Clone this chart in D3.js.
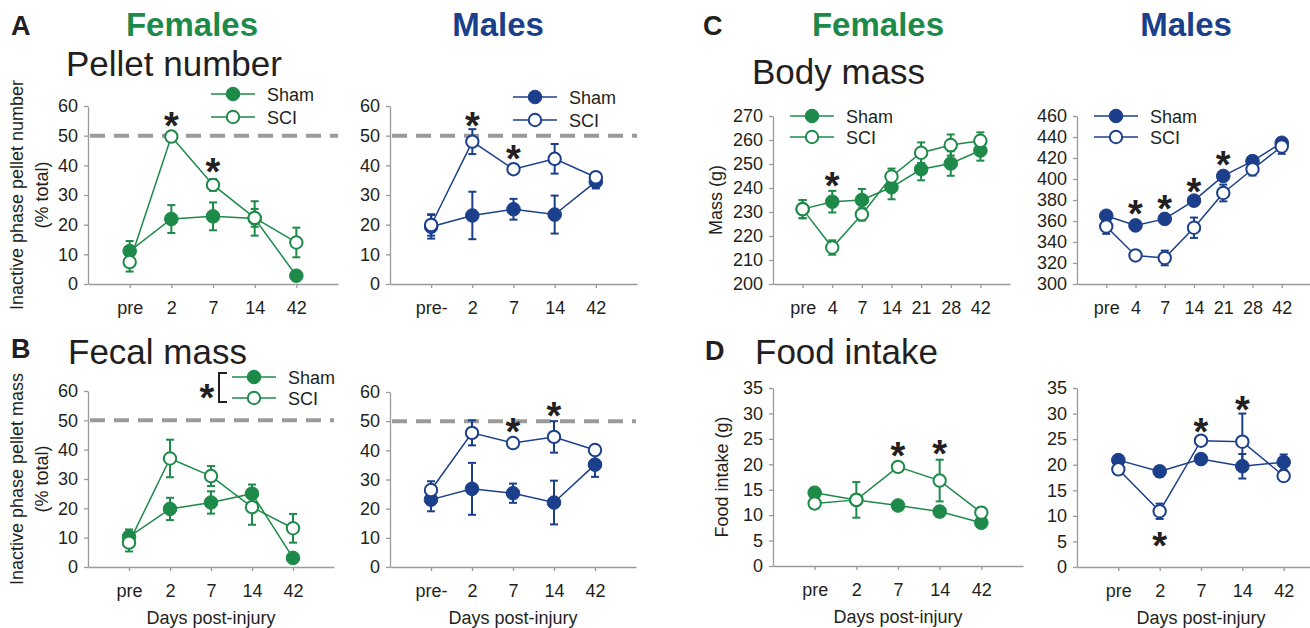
<!DOCTYPE html>
<html>
<head>
<meta charset="utf-8">
<script src="https://cdn.jsdelivr.net/npm/d3@7"></script>
<style>
  body { margin: 0; background: #fff; }
  svg text { font-family: "Liberation Sans", Arial, sans-serif; fill: #231f20; }
  .axis path, .axis line { stroke: #9a9a9a; stroke-width: 1.3; }
  .axis text { font-size: 18px; fill: #231f20; }
</style>
</head>
<body>
<script>
// categories
var daysF = ["pre", "2", "7", "14", "42"];
var daysM = ["pre-", "2", "7", "14", "42"];
var daysMass = ["pre", "4", "7", "14", "21", "28", "42"];
var daysFood = ["pre", "2", "7", "14", "42"];

// y tick labels
var ticksPct = [0, 10, 20, 30, 40, 50, 60];
var ticksMassF = [200, 210, 220, 230, 240, 250, 260, 270];
var ticksMassM = [300, 320, 340, 360, 380, 400, 420, 440, 460];
var ticksFood = [0, 5, 10, 15, 20, 25, 30, 35];

// A pellet number (% total)
var pelletF_sham = [11.1, 21.9, 22.8, 22.1, 2.8];
var pelletF_shamErr = [3.4, 4.7, 4.7, 5.8, 1.0];
var pelletF_sci = [7.4, 49.7, 33.4, 22.3, 14.0];
var pelletF_sciErr = [3.2, 1.0, 2.0, 3.0, 5.0];
var pelletM_sham = [19.3, 23.1, 25.2, 23.4, 34.5];
var pelletM_shamErr = [4.0, 8.0, 3.5, 6.4, 2.3];
var pelletM_sci = [19.9, 48.0, 38.7, 42.2, 36.0];
var pelletM_sciErr = [3.6, 4.2, 1.5, 5.0, 1.0];

// B fecal mass (% total)
var fecalF_sham = [10.3, 19.8, 22.0, 25.0, 3.1];
var fecalF_shamErr = [2.5, 3.8, 3.8, 3.1, 1.0];
var fecalF_sci = [8.3, 37.0, 31.0, 20.4, 13.2];
var fecalF_sciErr = [3.0, 6.4, 3.4, 6.0, 4.9];
var fecalM_sham = [23.1, 26.8, 25.3, 22.1, 35.1];
var fecalM_shamErr = [4.0, 8.9, 3.3, 7.5, 4.2];
var fecalM_sci = [26.4, 46.0, 42.5, 44.6, 40.1];
var fecalM_sciErr = [3.0, 4.3, 1.5, 5.4, 1.5];

// C body mass (g)
var massF_sham = [231.2, 234.3, 235.0, 240.3, 247.8, 250.2, 255.6];
var massF_shamErr = [3.8, 4.5, 4.6, 5.0, 4.6, 5.1, 4.2];
var massF_sci = [231.2, 215.2, 229.0, 244.8, 254.7, 257.9, 259.7];
var massF_sciErr = [3.8, 3.0, 2.6, 3.3, 4.3, 4.4, 3.5];
var massM_sham = [365.0, 355.8, 362.0, 379.4, 402.9, 417.0, 434.5];
var massM_shamErr = [4, 4, 3, 4, 3, 3, 4];
var massM_sci = [354.8, 327.2, 324.8, 353.6, 386.7, 409.3, 431.0];
var massM_sciErr = [7, 4, 7, 9.7, 8, 6, 7];

// D food intake (g)
var foodF_sham = [14.4, 13.0, 11.9, 10.7, 8.5];
var foodF_shamErr = [1.0, 1.0, 0.8, 1.0, 0.6];
var foodF_sci = [12.3, 13.0, 19.5, 16.8, 10.5];
var foodF_sciErr = [1.0, 3.5, 0.8, 4.1, 1.0];
var foodM_sham = [20.9, 18.7, 21.1, 19.7, 20.5];
var foodM_shamErr = [0.7, 1.0, 0.8, 2.4, 1.5];
var foodM_sci = [19.1, 10.9, 24.7, 24.5, 17.8];
var foodM_sciErr = [0.7, 1.5, 0.5, 5.5, 1.0];

// significance stars (category, value where the star sits)
var starsPelletF = [["2", 56.3], ["7", 40.8]];
var starsPelletM = [["2", 56.3], ["7", 45.2]];
var starsFecalM = [["7", 49.4], ["14", 54.9]];
var starsMassF = [["4", 244.6]];
var starsMassM = [["4", 375.2], ["7", 380], ["14", 396.2], ["21", 421.9]];
var starsFoodF = [["7", 23.4], ["14", 23.8]];
var starsFoodM = [["2", 5.9], ["7", 28.2], ["14", 32.5]];

var green = "#1e8a4a";
var blue = "#1b3f8a";

var svg = d3.select("body").append("svg")
  .attr("width", 1310)
  .attr("height", 628);

function drawPanel(p) {
  var x = d3.scalePoint().domain(p.days).range(p.xr).padding(1);
  var y = d3.scaleLinear().domain([p.ticks[0], p.ticks[p.ticks.length - 1]]).range(p.yr);
  var g = svg.append("g");

  g.append("g")
    .attr("class", "axis")
    .attr("transform", "translate(0," + p.yr[0] + ")")
    .call(d3.axisBottom(x).tickSize(4).tickPadding(13).tickSizeOuter(0));

  g.append("g")
    .attr("class", "axis")
    .attr("transform", "translate(" + p.xr[0] + ",0)")
    .call(d3.axisLeft(y).tickValues(p.ticks).tickSize(4).tickPadding(6).tickSizeOuter(0));

  if (p.dash) {
    g.append("line")
      .attr("x1", p.xr[0] + 2).attr("x2", p.xr[1])
      .attr("y1", y(50)).attr("y2", y(50))
      .attr("stroke", "#9a9a9a")
      .attr("stroke-width", 4)
      .attr("stroke-dasharray", "15,9");
  }

  var series = [
    { v: p.sham, e: p.shamErr, open: false },
    { v: p.sci, e: p.sciErr, open: true }
  ];

  series.forEach(function(s) {
    var pts = s.v.map(function(v, i) { return { day: p.days[i], v: v, e: s.e[i] }; });

    g.append("path")
      .datum(pts)
      .attr("fill", "none")
      .attr("stroke", p.color)
      .attr("stroke-width", 1.5)
      .attr("d", d3.line().x(function(d) { return x(d.day); }).y(function(d) { return y(d.v); }));

    var eb = g.selectAll(null).data(pts).enter().append("g")
      .attr("stroke", p.color)
      .attr("stroke-width", 2);
    eb.append("line")
      .attr("x1", function(d) { return x(d.day); })
      .attr("x2", function(d) { return x(d.day); })
      .attr("y1", function(d) { return y(d.v - d.e); })
      .attr("y2", function(d) { return y(d.v + d.e); });
    eb.append("line")
      .attr("x1", function(d) { return x(d.day) - 4; })
      .attr("x2", function(d) { return x(d.day) + 4; })
      .attr("y1", function(d) { return y(d.v + d.e); })
      .attr("y2", function(d) { return y(d.v + d.e); });
    eb.append("line")
      .attr("x1", function(d) { return x(d.day) - 4; })
      .attr("x2", function(d) { return x(d.day) + 4; })
      .attr("y1", function(d) { return y(d.v - d.e); })
      .attr("y2", function(d) { return y(d.v - d.e); });

    g.selectAll(null).data(pts).enter().append("circle")
      .attr("cx", function(d) { return x(d.day); })
      .attr("cy", function(d) { return y(d.v); })
      .attr("r", s.open ? 6.2 : 6.8)
      .attr("fill", s.open ? "#fff" : p.color)
      .attr("stroke", p.color)
      .attr("stroke-width", s.open ? 2 : 1);
  });

  // stars
  g.selectAll(null).data(p.stars || []).enter().append("text")
    .attr("x", function(d) { return x(d[0]); })
    .attr("y", function(d) { return y(d[1]) + 22; })
    .attr("text-anchor", "middle")
    .style("font-size", "38px")
    .style("font-weight", "bold")
    .text("*");

  // legend
  if (p.legend) {
    var lg = g.append("g").attr("transform", "translate(" + p.legend[0] + "," + p.legend[1] + ")");
    [["Sham", false, 0], ["SCI", true, p.legend[2]]].forEach(function(l) {
      lg.append("line")
        .attr("x1", 0).attr("x2", 44)
        .attr("y1", l[2]).attr("y2", l[2])
        .attr("stroke", p.color).attr("stroke-width", 1.5);
      lg.append("circle")
        .attr("cx", 22).attr("cy", l[2])
        .attr("r", l[1] ? 6.2 : 6.8)
        .attr("fill", l[1] ? "#fff" : p.color)
        .attr("stroke", p.color)
        .attr("stroke-width", l[1] ? 2 : 1);
      lg.append("text")
        .attr("x", 56).attr("y", l[2] + 6.5)
        .style("font-size", "18px")
        .text(l[0]);
    });
  }

  // x label
  if (p.xlabel) {
    g.append("text")
      .attr("x", (x(p.days[0]) + x(p.days[p.days.length - 1])) / 2)
      .attr("y", p.yr[0] + 57)
      .attr("text-anchor", "middle")
      .style("font-size", "18px")
      .text("Days post-injury");
  }

  // y label
  if (p.ylabel) {
    p.ylabel.forEach(function(t) {
      g.append("text")
        .attr("transform", "translate(" + t[1] + "," + ((p.yr[0] + p.yr[1]) / 2) + ") rotate(-90)")
        .attr("text-anchor", "middle")
        .attr("dy", "0.35em")
        .style("font-size", "18px")
        .text(t[0]);
    });
  }
  return g;
}

// A
drawPanel({ days: daysF, ticks: ticksPct, xr: [88, 338], yr: [284, 106], color: green, dash: true,
  sham: pelletF_sham, shamErr: pelletF_shamErr, sci: pelletF_sci, sciErr: pelletF_sciErr,
  stars: starsPelletF, legend: [211, 94, 23],
  ylabel: [["Inactive phase pellet number", 17], ["(% total)", 42]] });
drawPanel({ days: daysM, ticks: ticksPct, xr: [390, 637], yr: [284, 106], color: blue, dash: true,
  sham: pelletM_sham, shamErr: pelletM_shamErr, sci: pelletM_sci, sciErr: pelletM_sciErr,
  stars: starsPelletM, legend: [513, 97, 23] });

// B
var bF = drawPanel({ days: daysF, ticks: ticksPct, xr: [88, 334], yr: [567, 391], color: green, dash: true,
  sham: fecalF_sham, shamErr: fecalF_shamErr, sci: fecalF_sci, sciErr: fecalF_sciErr,
  legend: [232, 377, 21], xlabel: true,
  ylabel: [["Inactive phase pellet mass", 17], ["(% total)", 42]] });
bF.append("path")
  .attr("d", "M227,373H219V402H227")
  .attr("fill", "none").attr("stroke", "#231f20").attr("stroke-width", 2);
bF.append("text")
  .attr("x", 207).attr("y", 411)
  .attr("text-anchor", "middle")
  .style("font-size", "38px").style("font-weight", "bold")
  .text("*");
drawPanel({ days: daysM, ticks: ticksPct, xr: [390, 636], yr: [567, 392], color: blue, dash: true,
  sham: fecalM_sham, shamErr: fecalM_shamErr, sci: fecalM_sci, sciErr: fecalM_sciErr,
  stars: starsFecalM, xlabel: true });

// C
drawPanel({ days: daysMass, ticks: ticksMassF, xr: [773, 1010], yr: [284, 116], color: green,
  sham: massF_sham, shamErr: massF_shamErr, sci: massF_sci, sciErr: massF_sciErr,
  stars: starsMassF, legend: [790, 116, 21], ylabel: [["Mass (g)", 716]] });
drawPanel({ days: daysMass, ticks: ticksMassM, xr: [1077, 1311], yr: [284, 116], color: blue,
  sham: massM_sham, shamErr: massM_shamErr, sci: massM_sci, sciErr: massM_sciErr,
  stars: starsMassM, legend: [1094, 116, 21] });

// D
drawPanel({ days: daysFood, ticks: ticksFood, xr: [773, 1023], yr: [566, 388], color: green,
  sham: foodF_sham, shamErr: foodF_shamErr, sci: foodF_sci, sciErr: foodF_sciErr,
  stars: starsFoodF, xlabel: true, ylabel: [["Food intake (g)", 722]] });
drawPanel({ days: daysFood, ticks: ticksFood, xr: [1077, 1325], yr: [567, 388], color: blue,
  sham: foodM_sham, shamErr: foodM_shamErr, sci: foodM_sci, sciErr: foodM_sciErr,
  stars: starsFoodM, xlabel: true });

// titles and panel letters
var titles = [
  ["A", 11, 35, "27px", "bold", "#231f20", "start"],
  ["B", 11, 358, "27px", "bold", "#231f20", "start"],
  ["C", 703, 35, "27px", "bold", "#231f20", "start"],
  ["D", 705, 360, "27px", "bold", "#231f20", "start"],
  ["Females", 192, 36, "33px", "bold", green, "middle"],
  ["Males", 498, 36, "33px", "bold", blue, "middle"],
  ["Females", 878, 36, "33px", "bold", green, "middle"],
  ["Males", 1186, 36, "33px", "bold", blue, "middle"],
  ["Pellet number", 66, 76, "35px", "normal", "#231f20", "start"],
  ["Fecal mass", 68, 364, "35px", "normal", "#231f20", "start"],
  ["Body mass", 752, 84, "35px", "normal", "#231f20", "start"],
  ["Food intake", 755, 364, "35px", "normal", "#231f20", "start"]
];
svg.selectAll(null).data(titles).enter().append("text")
  .attr("x", function(d) { return d[1]; })
  .attr("y", function(d) { return d[2]; })
  .attr("text-anchor", function(d) { return d[6]; })
  .style("font-size", function(d) { return d[3]; })
  .style("font-weight", function(d) { return d[4]; })
  .style("fill", function(d) { return d[5]; })
  .text(function(d) { return d[0]; });
</script>
</body>
</html>
